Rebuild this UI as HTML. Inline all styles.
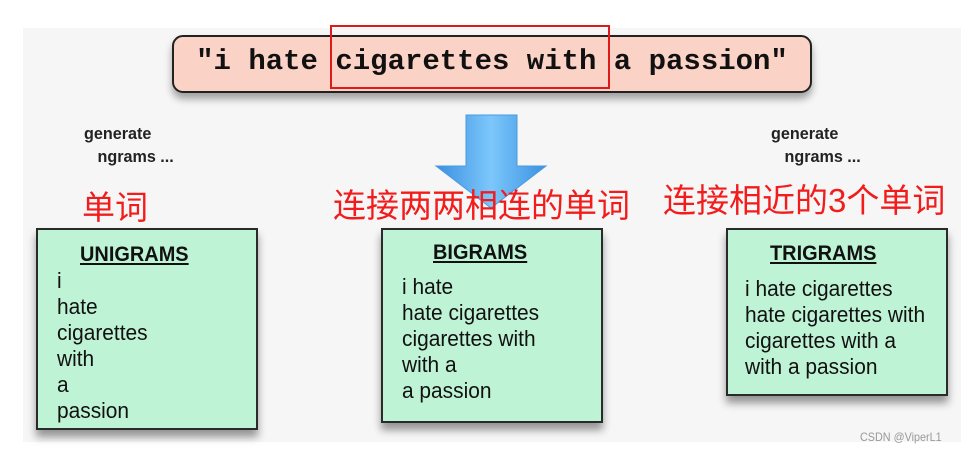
<!DOCTYPE html>
<html><head><meta charset="utf-8"><style>
body{margin:0;width:968px;height:454px;background:#fff;position:relative;overflow:hidden;font-family:"Liberation Sans",sans-serif}
.a{position:absolute}
.slide{left:23px;top:28px;width:938px;height:414px;background:#f6f6f6}
.pill{left:172px;top:35px;width:636px;height:54px;background:#fbd2c6;border:2px solid #222;border-radius:11px;box-shadow:0 6px 8px rgba(0,0,0,.35)}
.ptxt{left:172px;top:45px;width:640px;text-align:center;font-family:"Liberation Mono",monospace;font-weight:bold;font-size:29px;color:#111;white-space:pre}
.red{left:330px;top:25px;width:276px;height:60px;border:2.5px solid #e0191b}
.gen{font-size:17px;font-weight:bold;color:#222;line-height:23px;transform:scaleX(.95);transform-origin:left}
.cn{color:#f21c1c;font-size:33px;font-family:"Liberation Sans","Noto Sans CJK SC",sans-serif;white-space:nowrap}
.box{background:#bff3d5;border:2px solid #2a2a2a;box-shadow:0 7px 8px rgba(0,0,0,.4)}
.t{font-size:22px;color:#111;line-height:26px;white-space:nowrap;transform:scaleX(.95);transform-origin:left}
.h{font-weight:bold;text-decoration:underline}
</style></head><body>
<div class="a slide"></div>
<div class="a pill"></div>
<div class="a ptxt">"i hate cigarettes with a passion"</div>
<div class="a red"></div>
<svg class="a" style="left:430px;top:110px" width="124" height="100">
<defs><linearGradient id="g" x1="0" x2="1"><stop offset="0" stop-color="#3a8fe0"/><stop offset=".5" stop-color="#7cc7fb"/><stop offset="1" stop-color="#3a92e2"/></linearGradient></defs>
<polygon points="36,5 87,5 87,56 116,56 61,98 6,56 36,56" fill="url(#g)" stroke="#4a9ae0"/>
</svg>
<div class="a gen" style="left:84px;top:122px">generate<br>&nbsp;&nbsp;&nbsp;ngrams ...</div>
<div class="a gen" style="left:771px;top:122px">generate<br>&nbsp;&nbsp;&nbsp;ngrams ...</div>
<div class="a cn" style="left:82px;top:181px">单词</div>
<div class="a cn" style="left:333px;top:179px">连接两两相连的单词</div>
<div class="a cn" style="left:663px;top:174px">连接相近的3个单词</div>
<div class="a box" style="left:36px;top:228px;width:218px;height:198px"></div>
<div class="a box" style="left:381px;top:228px;width:218px;height:191px"></div>
<div class="a box" style="left:726px;top:228px;width:218px;height:164px"></div>
<div class="a t" style="left:80px;top:242px;font-size:21px"><span class="h">UNIGRAMS</span></div>
<div class="a t" style="left:57px;top:268px">i<br>hate<br>cigarettes<br>with<br>a<br>passion</div>
<div class="a t" style="left:433px;top:240px;font-size:21px"><span class="h">BIGRAMS</span></div>
<div class="a t" style="left:402px;top:274px">i hate<br>hate cigarettes<br>cigarettes with<br>with a<br>a passion</div>
<div class="a t" style="left:770px;top:241px;font-size:21px"><span class="h">TRIGRAMS</span></div>
<div class="a t" style="left:745px;top:276px">i hate cigarettes<br>hate cigarettes with<br>cigarettes with a<br>with a passion</div>
<div class="a" style="left:860px;top:430px;font-size:12px;color:#999;transform:scaleX(.9);transform-origin:left">CSDN @ViperL1</div>
</body></html>
